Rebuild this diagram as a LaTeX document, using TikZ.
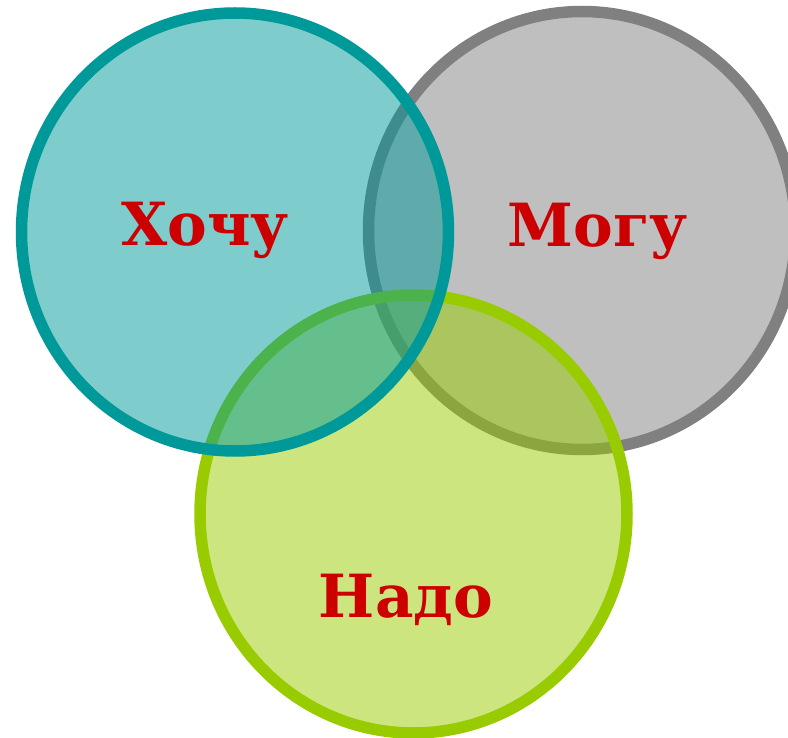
\documentclass[tikz,border=0pt]{standalone}
\usepackage{fontspec}
\setmainfont{DejaVu Serif}
\usepackage{tikz}
\usetikzlibrary{shapes.geometric}

\definecolor{setteal}{HTML}{009999}
\definecolor{setgray}{HTML}{808080}
\definecolor{setgreen}{HTML}{99CC00}
\definecolor{lblred}{HTML}{CC0000}

\begin{document}
\begin{tikzpicture}[x=1pt,y=-1pt]
\tikzstyle{set}=[ellipse,inner sep=0pt,outer sep=0pt,line width=11.5pt,
                 minimum width=427pt,minimum height=438pt,fill opacity=0.5]
\tikzstyle{lbl}=[anchor=base,inner sep=0pt,text=lblred,
                 font=\fontsize{59.5}{60}\selectfont\bfseries]
\useasboundingbox (0,0) rectangle (788,738);

\node[set,draw=setgray,fill=setgray] (MOGU) at (582,230.5) {};
\node[set,draw=setgreen,fill=setgreen] (NADO) at (413.5,514) {};
\node[set,draw=setteal,fill=setteal] (HOCHU) at (235,232) {};

\node[lbl] (HOCHUtxt) at (205,245.5) {Хочу};
\node[lbl] (MOGUtxt) at (598,246.5) {Могу};
\node[lbl] (NADOtxt) at (406,617) {Надо};
\end{tikzpicture}
\end{document}
